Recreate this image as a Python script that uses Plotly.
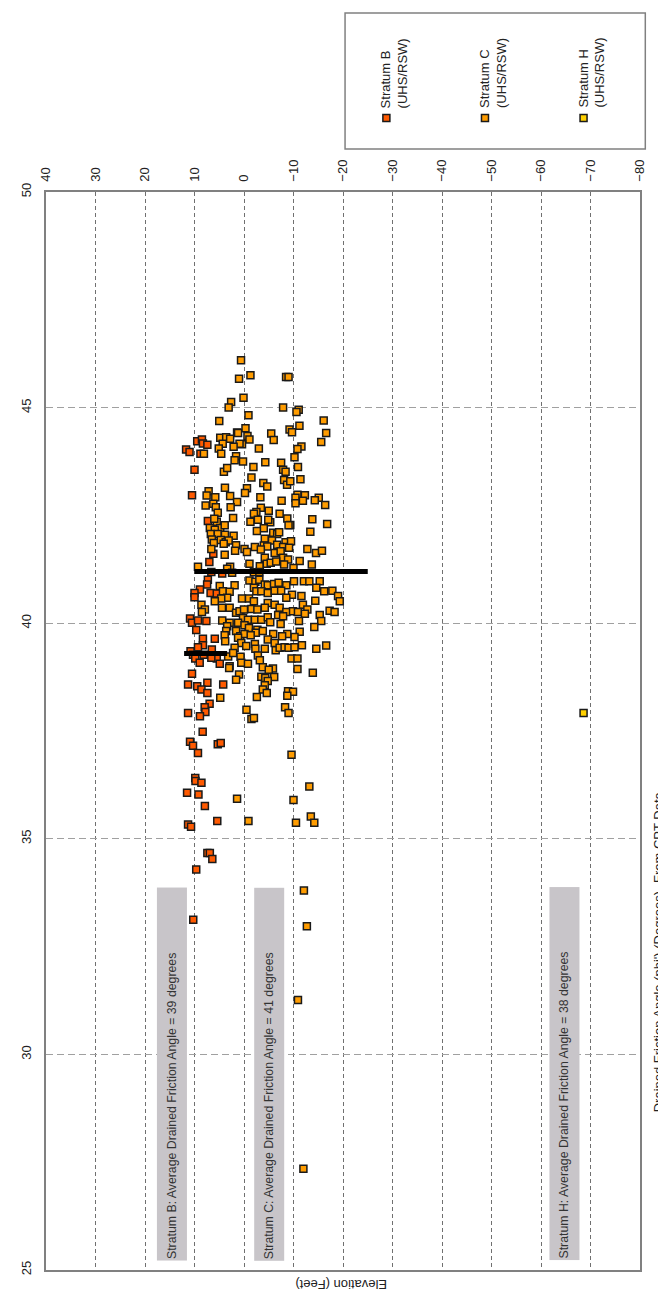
"""Drained friction angle vs elevation, CPT data (rotated layout)."""

import plotly.graph_objects as go

FONT = "Liberation Sans, Arial, sans-serif"

# Stratum B (UHS/RSW): elevation (ft) and friction angle (deg)
b_elev = [9.45, 8.5, 8.3, 7.4, 11.7, 11.0, 8.8, 10.0, 10.5, 7.3,
          6.2, 7.0, 6.6, 4.4, 7.3, 7.45, 8.9, 10.0, 10.0, 6.75,
          5.5, 10.9, 10.5, 9.3, 7.6, 9.65, 8.3, 5.9, 8.3, 9.3,
          10.8, 10.3, 8.15, 6.5, 5.5, 9.85, 8.95, 6.6, 4.9, 10.5,
          11.3, 9.45, 7.4, 8.6, 4.2, 7.4, 6.95, 7.95, 7.8, 8.9,
          11.3, 8.35, 10.9, 10.3, 9.3, 5.3, 4.7, 9.85, 9.8, 8.6,
          11.5, 9.2, 7.9, 11.3, 10.7, 5.4, 7.4, 6.9, 6.4, 9.65,
          10.25]
b_phi = [44.22, 44.26, 44.17, 44.14, 44.03, 43.97, 43.93, 43.56, 42.97, 42.37,
         41.61, 41.42, 41.19, 41.15, 41.01, 40.9, 40.78, 40.7, 40.6, 40.7,
         40.69, 40.11, 40.01, 40.06, 40.05, 39.84, 39.64, 39.64, 39.49, 39.44,
         39.35, 39.27, 39.27, 39.39, 39.18, 39.18, 39.08, 39.2, 39.06, 38.83,
         38.58, 38.54, 38.62, 38.46, 38.58, 38.38, 38.13, 38.05, 37.94, 37.84,
         37.92, 37.48, 37.25, 37.16, 36.99, 37.19, 37.22, 36.41, 36.34, 36.3,
         36.07, 36.03, 35.76, 35.33, 35.28, 35.41, 34.67, 34.67, 34.53, 34.29,
         33.12]

# Stratum C (UHS/RSW)
c_elev = [0.6, -1.3, 1.0, -8.5, -9.0, 0.1, 2.6, 3.1, -7.9, -11.05,
          -10.6, -0.9, 5.0, -16.1, -11.2, -0.3, 1.4, 1.2, -9.2, -9.7,
          -16.6, -5.5, -6.0, -0.7, -1.1, 4.8, 3.6, 2.8, -15.6, 4.3,
          5.1, 4.6, 0.4, 0.9, 2.1, -3.0, -11.6, -10.8, -10.2, 8.1,
          1.6, 1.9, 0.2, -4.3, -7.5, 4.06, 3.4, -1.9, -7.9, -8.4,
          -10.9, -1.5, -8.1, -8.7, -9.35, -11.4, -3.9, -4.7, -0.6, -0.2,
          3.85, 7.15, 7.55, 5.8, 2.8, -3.3, -10.8, -12.3, -10.4, -11.9,
          -10.4, -15.1, -14.3, -16.4, -7.6, 1.4, 7.75, 6.2, 5.7, 2.7,
          -3.4, -5.0, -2.5, -2.0, 5.3, -7.2, -8.75, -9.35, -9.0, -13.8,
          -16.8, 2.2, 5.5, 6.0, -1.3, -2.8, -5.3, -4.9, 6.9, 4.8,
          3.9, 5.9, -4.0, -2.6, -13.4, -5.9, -6.7, -7.1, 6.7, 5.3,
          3.85, 2.1, 6.5, 4.7, 3.7, 3.1, -4.2, -5.65, -8.4, -9.5,
          1.6, 6.1, 4.1, -2.2, -4.0, -4.7, -6.7, -7.9, -9.1, -12.8,
          6.6, 3.9, 1.8, -0.1, -0.6, -3.4, -4.2, -6.2, -7.4, -7.9,
          -8.9, -14.55, -15.75, -11.25, -13.7, -1.1, 2.8, 3.4, 2.4, 9.3,
          -3.2, -4.6, -5.4, -6.5, -8.1, -10.0, -2.0, -3.1, 4.9, 1.9,
          4.25, 2.9, 3.4, 4.6, -1.1, -2.3, -3.1, -4.2, -4.8, -6.05,
          -7.0, -8.55, -10.1, -12.1, -13.2, -15.3, -2.0, -2.5, -3.5, -4.8,
          -6.2, -7.5, -14.6, -16.2, -17.85, -19.0, -19.35, -9.7, -8.55, -11.6,
          0.4, -1.0, -2.0, -4.8, -6.2, -4.2, -7.2, -11.9, -14.4, 8.6,
          7.9, 8.5, 5.9, 4.45, 2.9, 1.6, 0.9, 0.0, -1.5, -2.7,
          -8.55, -9.9, -10.9, -12.8, -12.3, -17.3, -18.3, -15.3, -15.6, 0.2,
          -0.8, -2.2, -3.5, -4.8, -6.9, -7.9, 4.4, 2.9, -5.3, -7.4,
          -11.1, 1.2, -0.1, -1.0, 3.4, 3.6, -2.7, -2.4, -3.8, -11.25,
          -10.2, -8.75, -7.7, -14.2, 1.6, 0.75, -0.1, -1.35, 1.2, 3.9,
          3.8, -5.9, -4.8, -6.2, 0.55, -0.45, 1.9, -2.2, -2.3, -4.2,
          -6.4, -7.2, -8.2, -9.0, -11.7, -14.6, -16.6, -10.2, 3.2, 2.2,
          2.9, 3.0, 0.7, 0.55, -0.8, -2.8, -3.2, -3.8, -9.6, -10.8,
          -10.8, -5.85, -5.0, -13.9, 1.0, 1.6, -3.5, -4.3, -6.1, -4.8,
          -4.2, -3.8, -8.9, -9.9, 4.8, -2.6, -4.6, -8.75, -0.5, -1.5,
          -2.0, -8.3, -9.0, -9.6, -13.2, 1.4, -10.0, -0.9, -10.5, -13.5,
          -14.2, -12.1, -12.7, -10.9, -12.0]
c_phi = [46.1, 45.75, 45.67, 45.71, 45.71, 45.23, 45.13, 45.0, 45.0, 44.95,
         44.9, 44.82, 44.69, 44.7, 44.58, 44.52, 44.42, 44.41, 44.49, 44.43,
         44.41, 44.4, 44.25, 44.34, 44.26, 44.3, 44.31, 44.28, 44.2, 44.16,
         44.05, 43.93, 44.15, 44.16, 44.09, 44.05, 44.1, 44.04, 43.85, 43.93,
         43.87, 43.78, 43.75, 43.73, 43.72, 43.51, 43.6, 43.62, 43.56, 43.51,
         43.62, 43.38, 43.32, 43.21, 43.29, 43.34, 43.25, 43.17, 43.13, 43.02,
         43.14, 43.06, 42.96, 42.92, 42.95, 42.92, 42.98, 42.97, 42.91, 42.84,
         42.78, 42.91, 42.85, 42.74, 42.84, 42.81, 42.73, 42.77, 42.69, 42.69,
         42.68, 42.61, 42.58, 42.54, 42.56, 42.54, 42.43, 42.28, 42.27, 42.41,
         42.3, 42.44, 42.35, 42.42, 42.35, 42.4, 42.34, 42.4, 42.21, 42.21,
         42.27, 42.17, 42.2, 42.14, 42.12, 42.1, 42.07, 42.11, 42.07, 42.07,
         42.05, 42.03, 41.94, 41.93, 41.88, 41.92, 41.96, 41.92, 41.88, 41.9,
         41.81, 41.86, 41.84, 41.77, 41.8, 41.78, 41.82, 41.77, 41.75, 41.72,
         41.72, 41.59, 41.68, 41.72, 41.65, 41.71, 41.52, 41.63, 41.67, 41.52,
         41.48, 41.63, 41.68, 41.44, 41.36, 41.38, 41.31, 41.26, 41.17, 41.31,
         41.32, 41.38, 41.4, 41.43, 41.36, 41.28, 41.18, 41.19, 40.86, 40.88,
         40.74, 40.73, 40.59, 40.57, 40.99, 40.96, 41.01, 40.9, 40.88, 40.91,
         40.94, 40.88, 40.97, 40.97, 40.97, 40.97, 40.82, 40.74, 40.74, 40.7,
         40.75, 40.75, 40.82, 40.74, 40.75, 40.63, 40.51, 40.66, 40.59, 40.63,
         40.57, 40.57, 40.51, 40.47, 40.43, 40.36, 40.36, 40.43, 40.52, 40.43,
         40.32, 40.26, 40.51, 40.36, 40.36, 40.24, 40.28, 40.32, 40.33, 40.32,
         40.26, 40.28, 40.26, 40.32, 40.22, 40.29, 40.26, 40.19, 40.05, 40.12,
         40.08, 40.08, 40.08, 40.14, 40.19, 40.16, 40.06, 40.01, 40.02, 39.98,
         40.05, 40.01, 39.95, 39.89, 39.93, 39.82, 39.85, 39.78, 39.82, 39.8,
         39.68, 39.75, 39.7, 39.91, 39.82, 39.7, 39.75, 39.72, 39.66, 39.72,
         39.58, 39.75, 39.62, 39.54, 39.54, 39.47, 39.43, 39.52, 39.41, 39.41,
         39.37, 39.43, 39.44, 39.43, 39.49, 39.41, 39.48, 39.44, 39.23, 39.31,
         39.0, 38.96, 39.22, 39.08, 39.06, 39.25, 39.14, 38.98, 39.18, 39.18,
         38.94, 38.95, 38.92, 38.85, 38.81, 38.69, 38.76, 38.73, 38.75, 38.66,
         38.56, 38.46, 38.42, 38.41, 38.27, 38.29, 38.38, 38.32, 37.99, 37.78,
         37.8, 38.05, 37.92, 36.95, 36.21, 35.93, 35.9, 35.41, 35.37, 35.52,
         35.37, 33.8, 32.97, 31.26, 27.35]

# Stratum H (UHS/RSW)
h_elev = [-68.6]
h_phi = [37.92]

# average friction angle bars drawn over each stratum's elevation span
avg_b_elev = [12.1, 3.4]
avg_b_phi = [39.3, 39.3]
avg_c_elev = [10.0, -25.0]
avg_c_phi = [41.2, 41.2]

series = [
    ("Stratum B", "(UHS/RSW)", b_elev, b_phi, "#FF5A00"),
    ("Stratum C", "(UHS/RSW)", c_elev, c_phi, "#FF9C00"),
    ("Stratum H", "(UHS/RSW)", h_elev, h_phi, "#FFD000"),
]
notes = [
    ("Stratum B: Average Drained Friction Angle = 39 degrees", 14.5),
    ("Stratum C: Average Drained Friction Angle = 41 degrees", -5.15),
    ("Stratum H: Average Drained Friction Angle = 38 degrees", -64.8),
]
elev_ticks = list(range(-80, 41, 10))
phi_ticks = [25, 30, 35, 40, 45, 50]

fig = go.Figure()
for name, _, xs, ys, color in series:
    fig.add_trace(go.Scatter(
        x=xs, y=ys, mode="markers", name=name,
        marker=dict(symbol="square", size=7, color=color,
                    line=dict(color="#1a1a1a", width=1.5)),
    ))
for xs, ys in [(avg_b_elev, avg_b_phi), (avg_c_elev, avg_c_phi)]:
    fig.add_trace(go.Scatter(x=xs, y=ys, mode="lines",
                             line=dict(color="black", width=5)))

# plot-area pixel box, used to place the hand-built legend in paper coords
L, R, T, B = 38.2, 631.7, 184.0, 1262.0


def px(xp):
    return (xp - L) / (R - L)


def py(yp):
    return (B - yp) / (B - T)


shapes = [dict(type="rect", xref="paper", yref="paper",
               x0=px(337), x1=px(637), y0=py(141), y1=py(5),
               line=dict(color="#808080", width=1.5), fillcolor="white")]
annotations = []
for i, (name, sub, _, _, color) in enumerate(series):
    mx = 378.3 + 98.5 * i
    shapes.append(dict(type="rect", xref="paper", yref="paper",
                       xsizemode="pixel", ysizemode="pixel",
                       xanchor=px(mx), yanchor=py(110),
                       x0=-3.5, x1=3.5, y0=-3.5, y1=3.5,
                       fillcolor=color, line=dict(color="#1a1a1a", width=1.5)))
    annotations.append(dict(xref="paper", yref="paper", x=px(mx + 8), y=py(102),
                            xanchor="center", yanchor="bottom", showarrow=False,
                            text=f"{name}<br>{sub}", textangle=-90, align="left",
                            font=dict(family=FONT, size=13, color="#222")))

for text, xpos in notes:
    annotations.append(dict(x=xpos, y=29.55, xref="x", yref="y", showarrow=False,
                            text=text, textangle=-90, align="left",
                            width=370, height=27, bgcolor="#C8C5C9",
                            xanchor="center", yanchor="middle",
                            font=dict(family=FONT, size=12.3, color="#333")))

annotations.append(dict(xref="paper", yref="paper", x=px(333), y=py(1277),
                        text="Elevation (Feet)", textangle=180, showarrow=False,
                        xanchor="center", yanchor="middle",
                        font=dict(family=FONT, size=13, color="#222")))
annotations.append(dict(xref="paper", yref="paper", x=px(651), y=py(778),
                        text="Drained Friction Angle (phi') (Degrees) -From CPT Data-",
                        textangle=-90, showarrow=False,
                        xanchor="center", yanchor="top",
                        font=dict(family=FONT, size=13, color="#222")))

fig.update_layout(
    width=666, height=1293,
    margin=dict(l=38, r=34, t=184, b=31),
    paper_bgcolor="white", plot_bgcolor="white",
    showlegend=False,
    font=dict(family=FONT, size=13, color="#222"),
    shapes=shapes, annotations=annotations,
)
fig.update_xaxes(
    range=[40, -80], side="top", tickvals=elev_ticks, tickangle=-90,
    showgrid=True, gridcolor="#707070", griddash="4px,3px", gridwidth=1,
    showline=True, mirror=True, linecolor="#808080", linewidth=1.5,
    zeroline=False, ticks="", tickfont=dict(size=13), ticklabelstandoff=6,
)
fig.update_yaxes(
    range=[25, 50], tickvals=phi_ticks, tickangle=-90,
    showgrid=True, gridcolor="#a0a0a0", griddash="7px,4px", gridwidth=1,
    showline=True, mirror=True, linecolor="#808080", linewidth=1.5,
    zeroline=False, ticks="", tickfont=dict(size=13), ticklabelstandoff=8,
)

fig.write_html("out.html")
